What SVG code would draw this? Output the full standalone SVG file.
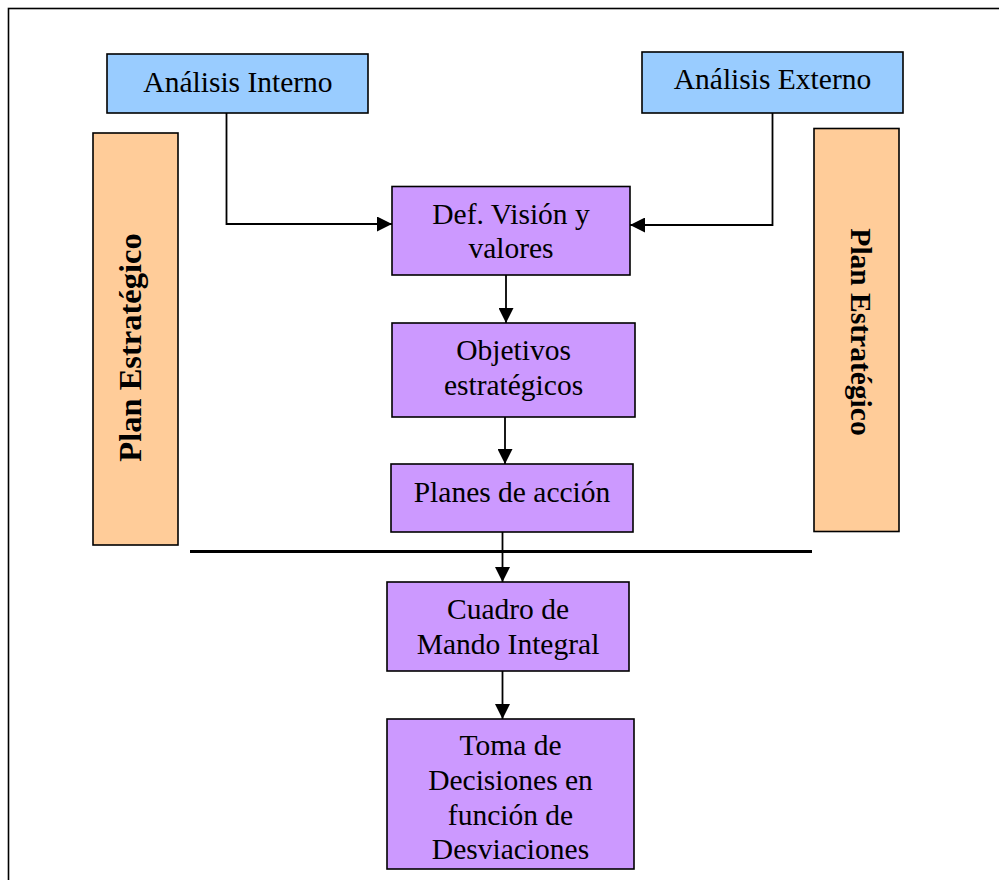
<svg xmlns="http://www.w3.org/2000/svg" width="999" height="880" viewBox="0 0 999 880">
<style>
.t{font-family:"Liberation Serif","Times New Roman",serif;font-size:29.5px;fill:#000;text-anchor:middle}
.b{font-weight:bold}
.blue{fill:#99CCFF;stroke:#000;stroke-width:1.6}
.pur{fill:#CC99FF;stroke:#000;stroke-width:1.6}
.org{fill:#FFCC99;stroke:#000;stroke-width:1.6}
.c{fill:none;stroke:#000;stroke-width:1.8}
</style>
<defs>
<marker id="ah" markerUnits="userSpaceOnUse" markerWidth="15" markerHeight="15" refX="15" refY="7.5" orient="auto">
<path d="M0,0 L15,7.5 L0,15 z" fill="#000"/>
</marker>
</defs>
<rect x="0" y="0" width="999" height="880" fill="#fff"/>
<rect x="8.5" y="8.5" width="1100" height="1000" fill="none" stroke="#000" stroke-width="1.6"/>
<g id="connectors">
<path class="c" d="M226.5,113 V224 H392" marker-end="url(#ah)"/>
<path class="c" d="M772.5,113 V225 H630" marker-end="url(#ah)"/>
<path class="c" d="M506,275 V323" marker-end="url(#ah)"/>
<path class="c" d="M505,417 V464" marker-end="url(#ah)"/>
<path class="c" d="M502.5,532 V582" marker-end="url(#ah)"/>
<path class="c" d="M502.5,671 V719" marker-end="url(#ah)"/>
<line x1="190" y1="551.5" x2="812" y2="551.5" stroke="#000" stroke-width="3"/>
</g>
<g id="analisis-interno">
<rect class="blue" x="107" y="54" width="261" height="59"/>
<text class="t" x="238" y="92">Análisis Interno</text>
</g>
<g id="analisis-externo">
<rect class="blue" x="642" y="52" width="261" height="61"/>
<text class="t" x="772.5" y="89">Análisis Externo</text>
</g>
<g id="plan-izq">
<rect class="org" x="93" y="133" width="85" height="412"/>
<text class="t b" style="font-size:32.5px" transform="translate(141,347.5) rotate(-90)">Plan Estratégico</text>
</g>
<g id="plan-der">
<rect class="org" x="814" y="128.5" width="85" height="403"/>
<text class="t b" style="font-size:29.5px" transform="translate(851,332) rotate(90)">Plan Estratégico</text>
</g>
<g id="def-vision">
<rect class="pur" x="392" y="186.5" width="238" height="88.5"/>
<text class="t" x="511" y="224">Def. Visión y</text>
<text class="t" x="511" y="258">valores</text>
</g>
<g id="objetivos">
<rect class="pur" x="392" y="323" width="243" height="94"/>
<text class="t" x="513.5" y="360">Objetivos</text>
<text class="t" x="513.5" y="395">estratégicos</text>
</g>
<g id="planes">
<rect class="pur" x="391" y="464" width="242" height="68"/>
<text class="t" x="512" y="502">Planes de acción</text>
</g>
<g id="cuadro">
<rect class="pur" x="387" y="582" width="242" height="89"/>
<text class="t" x="508" y="619">Cuadro de</text>
<text class="t" x="508" y="654">Mando Integral</text>
</g>
<g id="toma">
<rect class="pur" x="387" y="719" width="247" height="150"/>
<text class="t" x="510.5" y="755">Toma de</text>
<text class="t" x="510.5" y="790">Decisiones en</text>
<text class="t" x="510.5" y="825">función de</text>
<text class="t" x="510.5" y="859">Desviaciones</text>
</g>
</svg>
